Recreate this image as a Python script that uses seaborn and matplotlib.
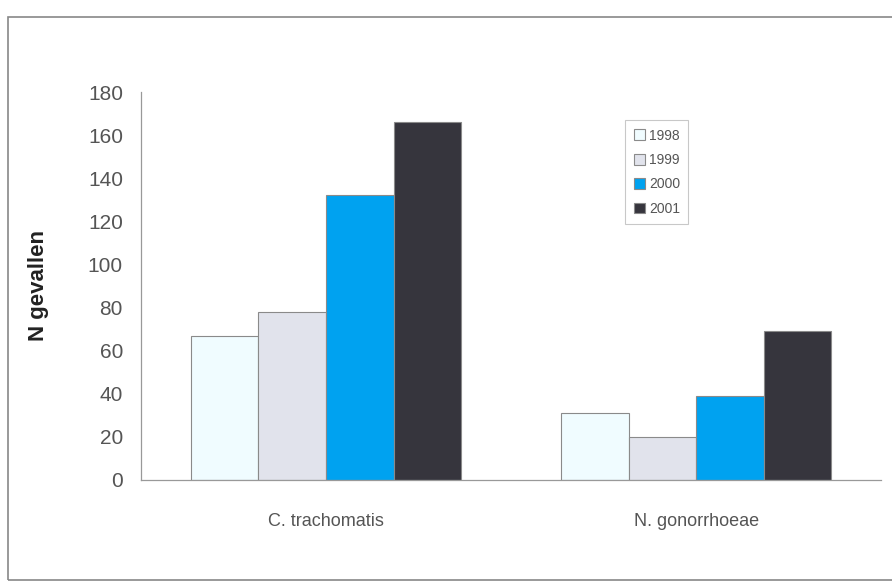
import pandas as pd
import matplotlib
matplotlib.use("Agg")
import matplotlib.pyplot as plt
import seaborn as sns
from matplotlib.patches import Rectangle

categories = ['C. trachomatis', 'N. gonorrhoeae']
years = ['1998', '1999', '2000', '2001']
values = {
    '1998': [67, 31],
    '1999': [78, 20],
    '2000': [132, 39],
    '2001': [166, 69],
}
colors = ['#f0fcff', '#e1e3ec', '#00a2f0', '#36353d']

rows = []
for y in years:
    for c, v in zip(categories, values[y]):
        rows.append({'Organisme': c, 'Jaar': y, 'N': v})
df = pd.DataFrame(rows)

sns.set_theme(style='white')
plt.rcParams['font.family'] = ['Liberation Sans', 'DejaVu Sans']

fig = plt.figure(figsize=(8.92, 5.86), dpi=100)
ax = fig.add_axes([0.158, 0.181, 0.83, 0.662])

sns.barplot(data=df, x='Organisme', y='N', hue='Jaar', hue_order=years,
            palette=colors, width=0.73, edgecolor='#8a8a8a', linewidth=0.8,
            saturation=1, ax=ax)

ax.set_ylim(0, 180)
ax.set_xlim(-0.5, 1.5)
ax.set_yticks(range(0, 181, 20))
ax.set_yticklabels([str(t) for t in range(0, 181, 20)], fontsize=15,
                   color='#555555')
ax.set_xticks([0, 1])
ax.set_xticklabels(categories, fontsize=13, color='#555555')
ax.set_xticks([0.5], minor=True)
ax.tick_params(axis='x', which='major', length=0, pad=24)
ax.tick_params(axis='x', which='minor', length=5, color='#999999',
               direction='inout')
ax.tick_params(axis='y', length=5, color='#999999', direction='out', pad=8)
ax.set_xlabel('')
ax.set_ylabel('N gevallen', fontsize=16, fontweight='bold', labelpad=28,
              color='#222222')

for side in ['top', 'right']:
    ax.spines[side].set_visible(False)
for side in ['left', 'bottom']:
    ax.spines[side].set_color('#999999')
    ax.spines[side].set_linewidth(0.9)

leg = ax.legend(loc='upper left', bbox_to_anchor=(0.645, 0.945),
                fontsize=10, frameon=True, fancybox=False,
                handlelength=0.8, handleheight=0.8, handletextpad=0.3,
                labelspacing=0.75, borderpad=0.6, edgecolor='#bbbbbb')
leg.get_frame().set_linewidth(0.8)
for t in leg.get_texts():
    t.set_color('#555555')

fig.patches.append(Rectangle((8 / 892, 6 / 586), 1.2, (586 - 23) / 586,
                             transform=fig.transFigure, fill=False,
                             edgecolor='#888888', linewidth=1.2))

fig.savefig('out.png', dpi=100)
